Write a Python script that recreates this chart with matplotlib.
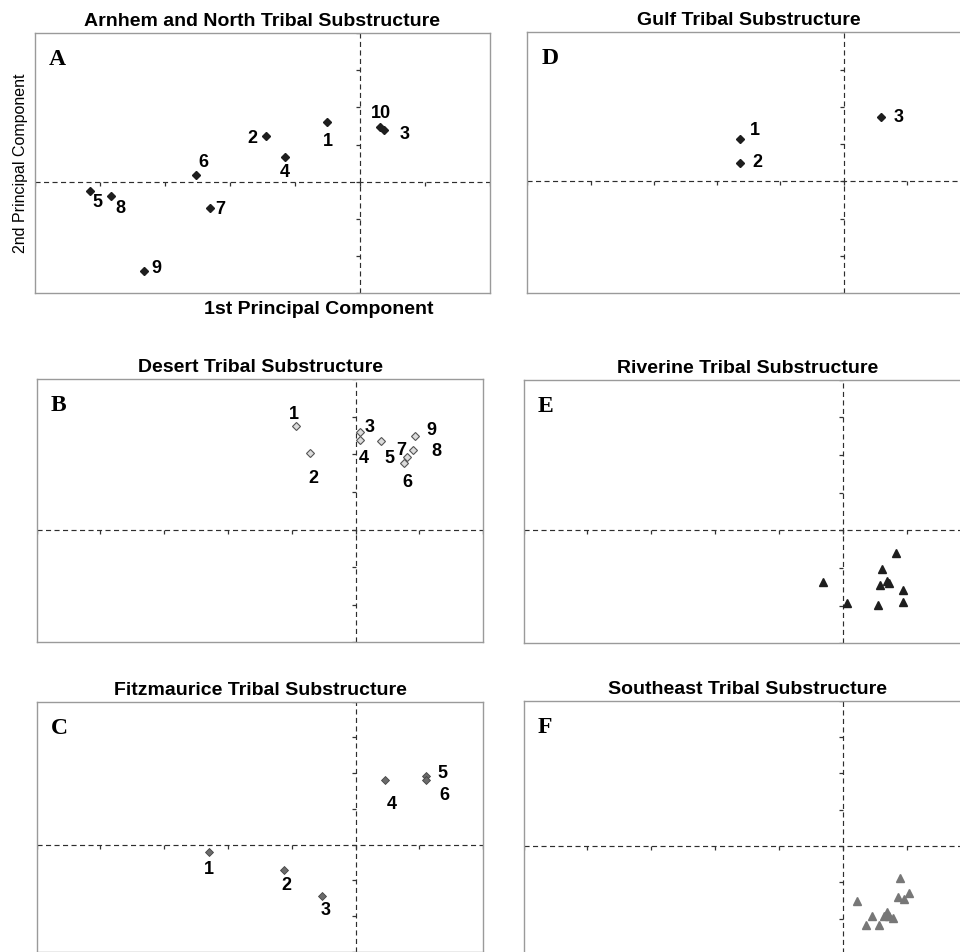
import matplotlib
matplotlib.use("Agg")
import matplotlib.pyplot as plt

plt.rcParams['font.family'] = ['Liberation Sans', 'DejaVu Sans']

# ---------------- data ----------------
x_ticks = [-5, -4, -3, -2, -1, 0, 1, 2]
y_ticks = [-3, -2, -1, 0, 1, 2, 3, 4]

A_labels = ['1', '2', '3', '4', '5', '6', '7', '8', '9', '10']
A_x = [-0.50, -1.45, 0.37, -1.16, -4.15, -2.52, -2.31, -3.83, -3.32, 0.31]
A_y = [1.61, 1.23, 1.39, 0.67, -0.24, 0.18, -0.70, -0.39, -2.41, 1.46]

D_labels = ['1', '2', '3']
D_x = [-1.64, -1.64, 0.60]
D_y = [1.14, 0.50, 1.72]

B_labels = ['1', '2', '3', '4', '5', '6', '7', '8', '9']
B_x = [-0.93, -0.72, 0.07, 0.06, 0.39, 0.75, 0.80, 0.90, 0.93]
B_y = [2.76, 2.03, 2.59, 2.39, 2.35, 1.76, 1.94, 2.11, 2.48]

E_x = [0.82, 0.60, -0.32, 0.58, 0.68, 0.72, 0.93, 0.05, 0.54, 0.93]
E_y = [-0.59, -1.02, -1.36, -1.44, -1.35, -1.39, -1.59, -1.94, -1.99, -1.89]

C_labels = ['1', '2', '3', '4', '5', '6']
C_x = [-2.30, -1.13, -0.53, 0.46, 1.10, 1.10]
C_y = [-0.21, -0.72, -1.43, 1.80, 1.93, 1.80]

F_x = [0.89, 1.02, 0.86, 0.95, 0.22, 0.45, 0.68, 0.63, 0.71, 0.77, 0.36, 0.56]
F_y = [-0.89, -1.28, -1.41, -1.47, -1.51, -1.92, -1.81, -1.92, -1.92, -1.99, -2.18, -2.18]

titles = {
    'A': 'Arnhem and North Tribal Substructure',
    'D': 'Gulf Tribal Substructure',
    'B': 'Desert Tribal Substructure',
    'E': 'Riverine Tribal Substructure',
    'C': 'Fitzmaurice Tribal Substructure',
    'F': 'Southeast Tribal Substructure',
}

# ---------------- layout / style ----------------
W, H = 960, 952
fig = plt.figure(figsize=(W / 100, H / 100), dpi=100)

# axes boxes in pixels: left, top, right, bottom
boxes = {
    'A': (35.0, 33.0, 490.0, 293.3),
    'D': (527.3, 32.3, 970.0, 293.3),
    'B': (36.7, 379.3, 483.3, 642.3),
    'E': (523.5, 379.7, 971.3, 643.3),
    'C': (36.7, 701.7, 483.3, 951.7),
    'F': (523.5, 700.7, 971.3, 955.0),
}

# label offsets in pixels (dx right, dy down) of the digit centre from the point
A_off = [(0, 18), (-13.3, 1), (20.7, 2.7), (0, 14), (7, 10), (7, -14), (10.7, 0), (9.7, 10.7), (12, -4.3), (1, -15.3)]
D_off = [(15, -9.7), (17.7, -2), (17.3, -1.7)]
B_off = [(-2, -13), (3.3, 23.3), (9, -6.7), (4, 17.4), (9.3, 16), (3.4, 17), (-5.7, -8), (23.4, -0.7), (16, -7.7)]
C_off = [(0, 15.7), (2.7, 14), (3.3, 12.7), (6.7, 22.7), (17, -4.3), (18.3, 13.3)]

PX2PT = 0.72
DIGIT_HALF = 6.2  # px


def make_axes(key):
    l, t, r, b = boxes[key]
    ax = fig.add_axes([l / W, 1 - b / H, (r - l) / W, (b - t) / H])
    ax.set_xlim(x_ticks[0], x_ticks[-1])
    ax.set_ylim(y_ticks[0], y_ticks[-1])
    ax.set_xticks([])
    ax.set_yticks([])
    for s in ax.spines.values():
        s.set_color('#9a9a9a')
        s.set_linewidth(1.0)
    dash = dict(color='#2e2e2e', linewidth=0.85, dashes=(4.3, 2.9), zorder=1)
    ax.axhline(0, **dash)
    ax.axvline(0, **dash)
    ax.plot(x_ticks, [0] * len(x_ticks), linestyle='none', marker=3,
            markersize=3.2, markeredgewidth=0.9, color='#333333', zorder=1)
    ax.plot([0] * len(y_ticks), y_ticks, linestyle='none', marker=0,
            markersize=3.2, markeredgewidth=0.9, color='#333333', zorder=1)
    ax.set_title(titles[key], fontsize=14, fontweight='bold', pad=5)
    ax.annotate(key, xy=(0, 1), xycoords='axes fraction',
                xytext=(14 * PX2PT, -32 * PX2PT), textcoords='offset points',
                ha='left', va='baseline', fontsize=17, fontweight='bold',
                fontfamily=['Liberation Serif', 'DejaVu Serif'])
    return ax


def label_points(ax, xs, ys, labels, offs):
    for x, y, lab, (dx, dy) in zip(xs, ys, labels, offs):
        ax.annotate(lab, xy=(x, y), xycoords='data',
                    xytext=(dx * PX2PT, -(dy + DIGIT_HALF) * PX2PT),
                    textcoords='offset points', ha='center', va='baseline',
                    fontsize=13, fontweight='bold', color='black', zorder=4)


dark_diamond = dict(linestyle='none', marker='D', markersize=3.8,
                    color='#1e1e1e', zorder=3)

axA = make_axes('A')
axA.plot(A_x, A_y, **dark_diamond)
label_points(axA, A_x, A_y, A_labels, A_off)
axA.set_ylabel('2nd Principal Component', fontsize=11.5, labelpad=5)

axD = make_axes('D')
axD.plot(D_x, D_y, **dark_diamond)
label_points(axD, D_x, D_y, D_labels, D_off)

axB = make_axes('B')
axB.plot(B_x, B_y, linestyle='none', marker='D', markersize=3.8,
         markerfacecolor='#dcdcdc', markeredgecolor='#555555',
         markeredgewidth=0.8, zorder=3)
label_points(axB, B_x, B_y, B_labels, B_off)

axE = make_axes('E')
axE.plot(E_x, E_y, linestyle='none', marker='^', markersize=6.4,
         color='#1e1e1e', zorder=3)

axC = make_axes('C')
axC.plot(C_x, C_y, linestyle='none', marker='D', markersize=3.8,
         markerfacecolor='#6b6b6b', markeredgecolor='#444444',
         markeredgewidth=0.6, zorder=3)
label_points(axC, C_x, C_y, C_labels, C_off)

axF = make_axes('F')
axF.plot(F_x, F_y, linestyle='none', marker='^', markersize=6.4,
         color='#777777', zorder=3)

fig.text(319 / W, 1 - 314 / H, '1st Principal Component', ha='center',
         va='baseline', fontsize=14, fontweight='bold')

fig.savefig('out.png', dpi=100)
